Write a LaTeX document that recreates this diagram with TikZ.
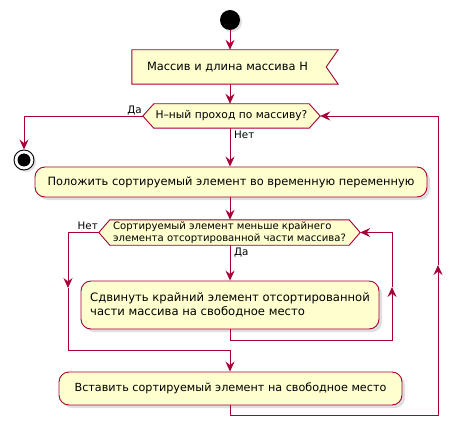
\documentclass[tikz,border=0pt]{standalone}
\usepackage{fontspec}
\setmainfont{DejaVu Sans}
\usetikzlibrary{arrows.meta,shadows,backgrounds}
\definecolor{pborder}{HTML}{A80036}
\definecolor{pfill}{HTML}{FEFECE}
\begin{document}
\begin{tikzpicture}[x=1pt,y=-1pt,
  font=\fontsize{11.4}{14}\selectfont,
  arr/.style={draw=pborder, line width=0.9pt, -{Stealth[length=10pt,width=9pt,inset=3.5pt]}},
  act/.style={draw=pborder, fill=pfill, line width=0.9pt, rounded corners=10pt,
    drop shadow={shadow xshift=3pt, shadow yshift=-3pt, fill=black!25}, inner sep=0pt},
  box/.style={inner sep=0pt},
  shp/.style={draw=pborder, fill=pfill, line width=0.9pt},
  shd/.style={fill=black!25},
  lbl/.style={font=\fontsize{10.3}{12}\selectfont, inner sep=0pt}
]
\useasboundingbox (0,0) rectangle (462,438);

% nodes
\node[circle, fill=black, minimum size=20pt, inner sep=0pt,
  drop shadow={shadow xshift=2pt, shadow yshift=-2pt, fill=black!25}] (start) at (230,20) {};
\node[box, minimum width=206pt, minimum height=34pt, inner xsep=15pt, text width=176pt, align=left] (in) at (235,67) {Массив и длина массива Н};
\node[box, minimum width=177pt, minimum height=24pt, font=\fontsize{10.7}{12}\selectfont] (d1) at (231.5,116) {Н–ный проход по массиву?};
\node[circle, draw=black, fill=white, line width=0.9pt, minimum size=20pt, inner sep=0pt,
  drop shadow={shadow xshift=2pt, shadow yshift=-2pt, fill=black!25}] (stop) at (24,160) {};
\fill[black] (stop) circle (6.5pt);
\node[act, minimum width=392pt, minimum height=30pt] (a2) at (231,182) {Положить сортируемый элемент во временную переменную};
\node[box, minimum width=261pt, minimum height=25pt, align=left,
  font=\fontsize{10.1}{12}\selectfont] (d2) at (229.5,232.5) {Сортируемый элемент меньше крайнего\\элемента отсортированной части массива?};
\node[act, minimum width=298pt, minimum height=48pt, align=left, font=\fontsize{11.6}{14}\selectfont] (a3) at (230,305) {Сдвинуть крайний элемент отсортированной\\части массива на свободное место};
\node[act, minimum width=343pt, minimum height=33pt, font=\fontsize{11.2}{13}\selectfont] (a4) at (230.5,388.5) {Вставить сортируемый элемент на свободное место};

% shapes behind text
\begin{scope}[on background layer]
  \fill[shd, shift={(3pt,3pt)}] (in.north west) -- (in.north east) -- ([xshift=-12pt]in.east) -- (in.south east) -- (in.south west) -- cycle;
  \draw[shp] (in.north west) -- (in.north east) -- ([xshift=-12pt]in.east) -- (in.south east) -- (in.south west) -- cycle;
  \fill[shd, shift={(3pt,3pt)}] (d1.west) -- ([xshift=11pt]d1.north west) -- ([xshift=-11pt]d1.north east) -- (d1.east) -- ([xshift=-11pt]d1.south east) -- ([xshift=11pt]d1.south west) -- cycle;
  \draw[shp] (d1.west) -- ([xshift=11pt]d1.north west) -- ([xshift=-11pt]d1.north east) -- (d1.east) -- ([xshift=-11pt]d1.south east) -- ([xshift=11pt]d1.south west) -- cycle;
  \fill[shd, shift={(3pt,3pt)}] (d2.west) -- ([xshift=11pt]d2.north west) -- ([xshift=-11pt]d2.north east) -- (d2.east) -- ([xshift=-11pt]d2.south east) -- ([xshift=11pt]d2.south west) -- cycle;
  \draw[shp] (d2.west) -- ([xshift=11pt]d2.north west) -- ([xshift=-11pt]d2.north east) -- (d2.east) -- ([xshift=-11pt]d2.south east) -- ([xshift=11pt]d2.south west) -- cycle;
\end{scope}

% labels
\node[lbl, anchor=east] (ya1) at (142,111) {Да};
\node[lbl, anchor=west] (no1) at (234,135) {Нет};
\node[lbl, anchor=east] (no2) at (98,226) {Нет};
\node[lbl, anchor=west] (ya2) at (234,253) {Да};

% helper coordinates
\coordinate (n1) at (68,288);
\coordinate (j2) at (230,350);
\coordinate (b3) at (230,340);
\coordinate (r2) at (392,287);
\coordinate (b4) at (230,415);
\coordinate (r1) at (438,265);

% connectors
\draw[arr] (start) -- (start |- in.north);
\draw[arr] (start |- in.south) -- (start |- d1.north);
\draw[arr] (d1.west) -- (d1.west -| stop) -- (stop);
\draw[arr] (start |- d1.south) -- (start |- a2.north);
\draw[arr] (start |- a2.south) -- (start |- d2.north);
\draw[arr] (start |- d2.south) -- (start |- a3.north);
\draw[arr] (d2.west) -- (d2.west -| n1) -- (n1);
\draw[arr] (n1) -- (n1 |- j2) -- (j2) -- (j2 |- a4.north);
\draw[arr] (start |- a3.south) -- (b3) -- (b3 -| r2) -- (r2);
\draw[arr] (r2) -- (r2 |- d2.east) -- (d2.east);
\draw[arr] (start |- a4.south) -- (b4) -- (b4 -| r1) -- (r1);
\draw[arr] (r1) -- (r1 |- d1.east) -- (d1.east);
\end{tikzpicture}
\end{document}
